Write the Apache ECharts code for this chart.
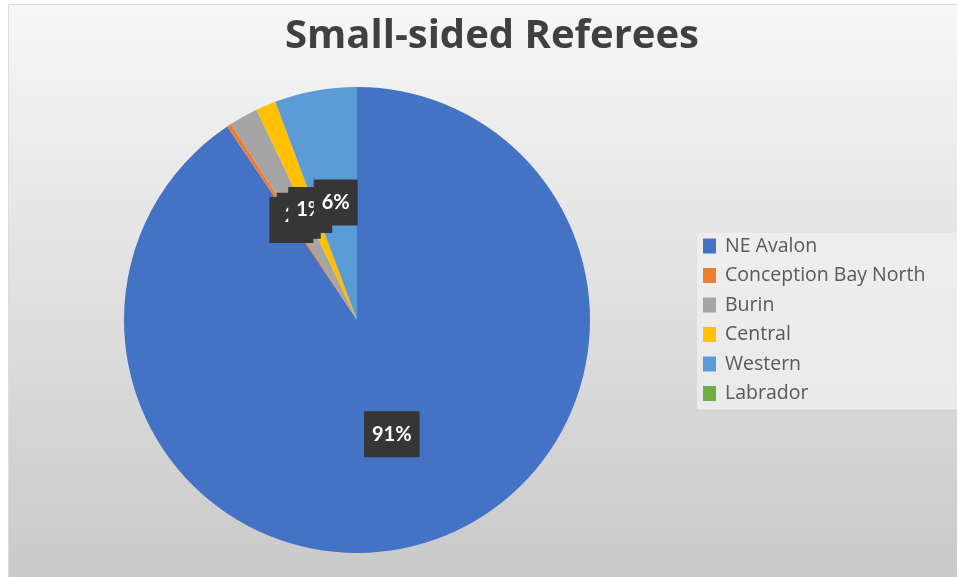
<!DOCTYPE html>
<html>
<head>
<meta charset="utf-8">
<script src="https://cdn.jsdelivr.net/npm/echarts@6/dist/echarts.min.js"></script>
<style>
html,body{margin:0;padding:0;background:#ffffff;}
#chart{width:957px;height:577px;}
</style>
</head>
<body>
<div id="chart"></div>
<script>
// Data (share of referees, %)
var categories = ['NE Avalon', 'Conception Bay North', 'Burin', 'Central', 'Western', 'Labrador'];
var values = [90.6, 0.3, 2.0, 1.4, 5.7, 0];
var colors = ['#4472C4', '#ED7D31', '#A5A5A5', '#FFC000', '#5B9BD5', '#70AD47'];
var titleText = 'Small-sided Referees';

var total = values.reduce(function (a, b) { return a + b; }, 0);
var pieData = categories.map(function (name, i) {
  return {
    name: name,
    value: values[i],
    itemStyle: { color: colors[i] },
    label: { show: values[i] > 0 }
  };
});

var chart = echarts.init(document.getElementById('chart'), null, { renderer: 'canvas' });
chart.setOption({
  animation: false,
  backgroundColor: 'transparent',
  graphic: [{
    type: 'rect',
    left: 8, top: 4,
    shape: { width: 949, height: 573 },
    style: {
      fill: new echarts.graphic.LinearGradient(0, 0, 0, 1, [
        { offset: 0, color: '#f7f7f7' },
        { offset: 1, color: '#c9c9c9' }
      ]),
      stroke: '#dcdcdc', lineWidth: 1
    },
    z: -10
  }],
  title: {
    text: titleText,
    left: 487, top: 12,
    textAlign: 'center',
    textStyle: { fontFamily: 'Open Sans', fontWeight: 'bold', fontSize: 40, color: '#404040' }
  },
  legend: {
    orient: 'vertical',
    left: 697, top: 233,
    itemWidth: 13, itemHeight: 15,
    itemGap: 9.5,
    icon: 'rect',
    padding: [3, 60, 6, 6],
    backgroundColor: 'rgba(240,240,240,0.75)',
    textStyle: { fontFamily: 'Open Sans', fontSize: 19.5, lineHeight: 20, color: '#595959', padding: [0, 0, 0, 4] },
    data: categories
  },
  series: [{
    type: 'pie',
    center: [357, 320],
    radius: 233,
    startAngle: 90,
    clockwise: true,
    avoidLabelOverlap: false,
    silent: true,
    itemStyle: { borderWidth: 0 },
    labelLayout: { hideOverlap: false },
    label: {
      show: true,
      position: 'inside',
      formatter: function (p) { return Math.round(p.value / total * 100) + '%'; },
      color: '#ffffff',
      fontFamily: 'Lato',
      fontWeight: 'bold',
      fontSize: 20,
      backgroundColor: '#363636',
      padding: [13, 8, 13, 8]
    },
    labelLine: { show: false },
    data: pieData
  }]
});
</script>
</body>
</html>
